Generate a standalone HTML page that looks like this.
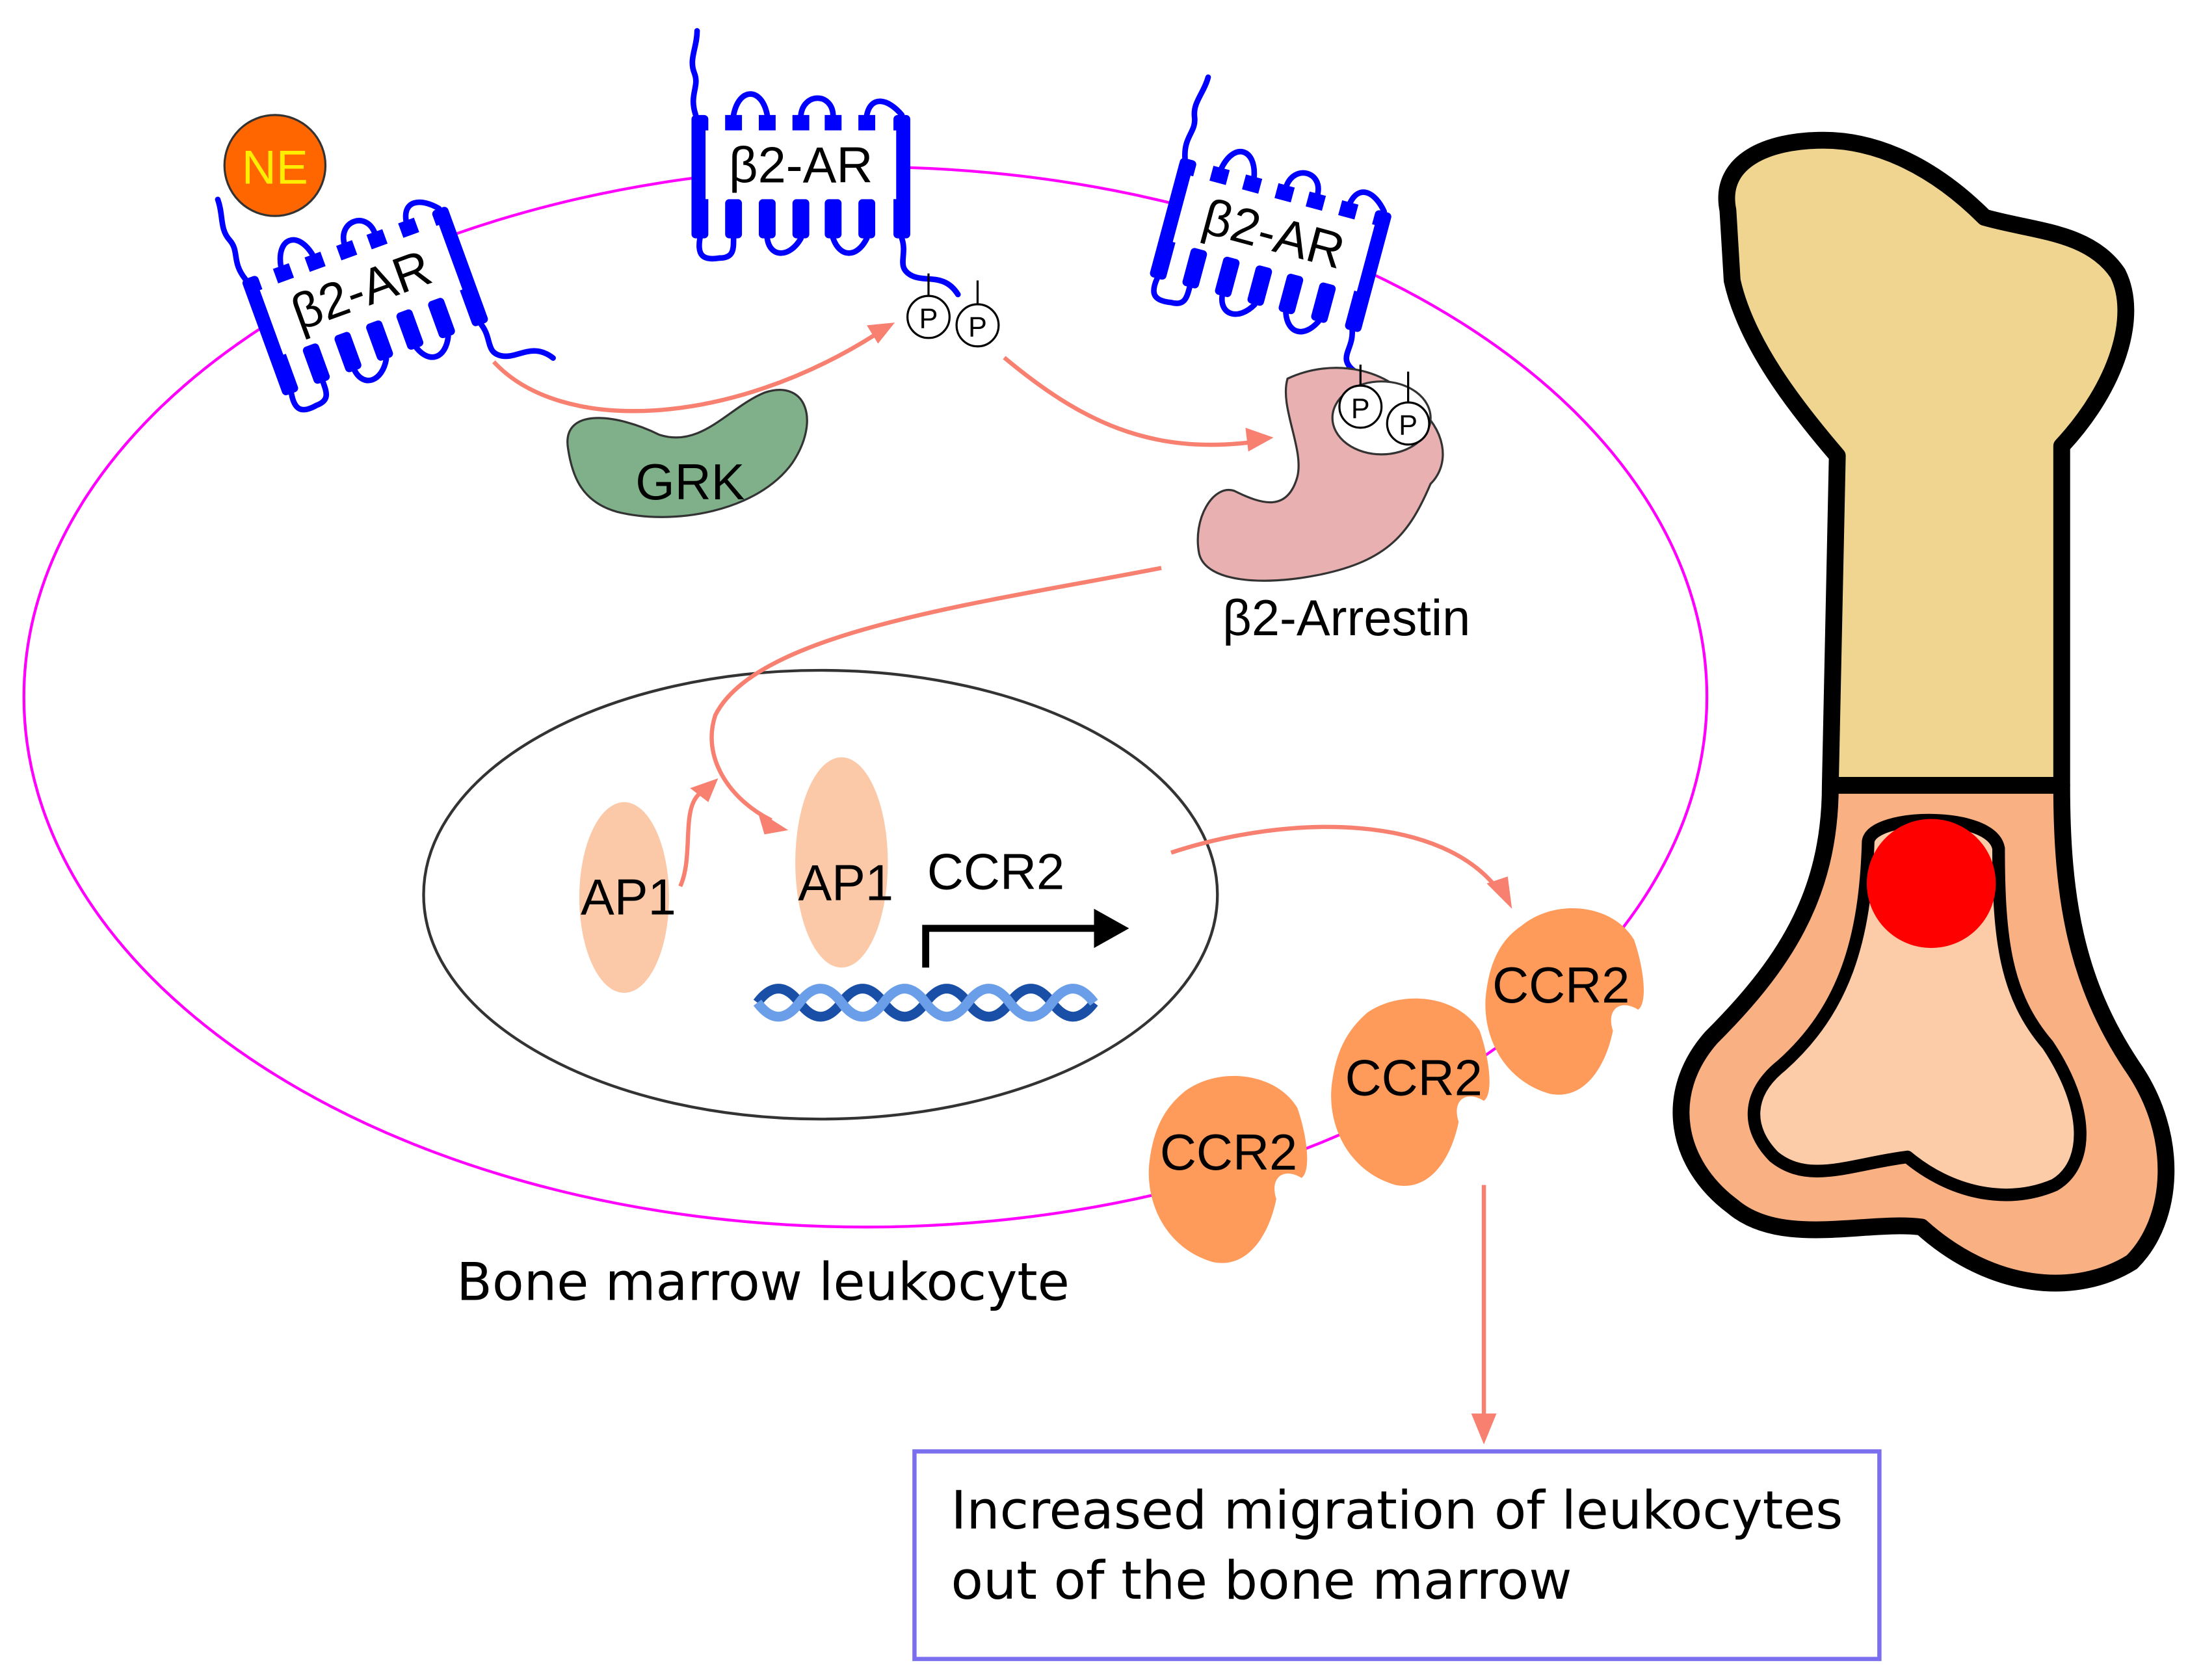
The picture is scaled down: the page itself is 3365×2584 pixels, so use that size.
<!DOCTYPE html>
<html><head><meta charset="utf-8"><style>html,body{margin:0;padding:0;background:#fff}svg{display:block}</style></head>
<body>
<svg width="3365" height="2584" viewBox="0 0 1560 1198" xmlns="http://www.w3.org/2000/svg" font-family="Liberation Sans, DejaVu Sans, sans-serif">
<defs>
<g id="rec">
  <g fill="#0000ff">
    <rect x="0" y="0" width="12" height="88" rx="3"/>
    <rect x="144" y="0" width="12" height="88" rx="3"/>
    <rect x="24" y="0" width="12" height="11"/><rect x="24" y="60" width="12" height="28" rx="3"/>
    <rect x="48" y="0" width="12" height="11"/><rect x="48" y="60" width="12" height="28" rx="3"/>
    <rect x="72" y="0" width="12" height="11"/><rect x="72" y="60" width="12" height="28" rx="3"/>
    <rect x="95" y="0" width="12" height="11"/><rect x="95" y="60" width="12" height="28" rx="3"/>
    <rect x="119" y="0" width="12" height="11"/><rect x="119" y="60" width="12" height="28" rx="3"/>
  </g>
  <rect x="10" y="11" width="136" height="49" fill="#fff"/>
  <rect x="2" y="11" width="8" height="49" fill="#0000ff"/>
  <rect x="146" y="11" width="8" height="49" fill="#0000ff"/>
  <g fill="none" stroke="#0000ff" stroke-width="4" stroke-linecap="round">
    <path d="M30 0 C34 -20 50 -20 54 0"/>
    <path d="M78 0 C80 -16 100 -16 101 0"/>
    <path d="M125 0 C128 -14 140 -12 150 0"/>
    <path d="M6 88 C4 100 8 104 20 102 C30 102 30 96 30 88"/>
    <path d="M54 88 C56 102 70 102 78 88"/>
    <path d="M101 88 C106 102 118 102 125 88"/>
    <path d="M3 0 C-2 -15 6 -20 2 -30 C-2 -40 4 -48 4 -60"/>
    <path d="M150 88 C154 100 146 108 156 114 C166 120 180 112 190 128"/>
  </g>
</g>
</defs>

<ellipse cx="617" cy="497" rx="600" ry="378" fill="none" stroke="#ff00ff" stroke-width="2"/>
<ellipse cx="585" cy="638" rx="283" ry="160" fill="none" stroke="#333" stroke-width="2"/>

<g transform="translate(493,82)">
  <use href="#rec"/>
  <text x="78" y="48" font-size="36" text-anchor="middle">β2-AR</text>
</g>
<g transform="translate(172,200) rotate(-20)">
  <use href="#rec"/>
  <text x="78" y="48" font-size="36" text-anchor="middle">β2-AR</text>
</g>
<g transform="translate(842,112) rotate(15)">
  <use href="#rec"/>
  <text x="78" y="48" font-size="36" text-anchor="middle">β2-AR</text>
</g>

<circle cx="196" cy="118" r="36" fill="#ff6600" stroke="#333" stroke-width="1.5"/>
<text x="196" y="131" font-size="34" fill="#ffee00" text-anchor="middle">NE</text>

<g stroke="#000" stroke-width="1.5" fill="#fff">
  <line x1="662" y1="195" x2="662" y2="211"/><line x1="697" y1="200" x2="697" y2="217"/>
  <circle cx="662" cy="226" r="15"/><circle cx="697" cy="232" r="15"/>
</g>
<text x="662" y="234" font-size="20" text-anchor="middle">P</text>
<text x="697" y="240" font-size="20" text-anchor="middle">P</text>

<path d="M405 320 C400 290 440 295 470 310 C500 320 520 290 545 280 C575 270 585 300 565 330 C540 365 480 375 440 365 C415 358 408 340 405 320 Z" fill="#7fb08a" stroke="#333" stroke-width="1.5"/>
<text x="492" y="356" font-size="36" text-anchor="middle">GRK</text>

<path d="M918 270 C950 255 990 262 1010 290 C1030 305 1035 330 1020 345 C1005 380 990 400 940 410 C900 418 860 415 855 395 C850 370 865 345 880 350 C900 360 918 365 925 340 C930 320 912 290 918 270 Z" fill="#e8b0b0" stroke="#333" stroke-width="1.5"/>
<ellipse cx="985" cy="298" rx="35" ry="26" fill="#fff" stroke="#333" stroke-width="1.5"/>
<g stroke="#000" stroke-width="1.5" fill="#fff">
  <line x1="970" y1="260" x2="970" y2="276"/><line x1="1004" y1="265" x2="1004" y2="288"/>
  <circle cx="970" cy="290" r="15"/><circle cx="1004" cy="302" r="15"/>
</g>
<text x="970" y="298" font-size="20" text-anchor="middle">P</text>
<text x="1004" y="310" font-size="20" text-anchor="middle">P</text>
<text x="960" y="453" font-size="36" text-anchor="middle">β2-Arrestin</text>

<g fill="none" stroke="#f88070" stroke-width="3">
  <path d="M352 258 C400 310 520 305 625 238"/>
  <path d="M716 255 C770 300 820 325 895 315"/>
  <path d="M828 405 C700 430 540 450 510 510 C500 540 520 570 550 585"/>
  <path d="M485 632 C495 610 485 575 500 565"/>
  <path d="M835 608 C920 580 1030 580 1070 637"/>
  <path d="M1058 845 L1058 1015"/>
</g>
<g fill="#f88070">
  <path d="M638 230 L618 232 L626 245 Z"/>
  <path d="M908 312 L888 305 L890 322 Z"/>
  <path d="M562 592 L540 578 L545 595 Z"/>
  <path d="M512 555 L492 562 L505 572 Z"/>
  <path d="M1078 648 L1060 630 L1075 625 Z"/>
  <path d="M1058 1030 L1049 1008 L1067 1008 Z"/>
</g>

<ellipse cx="445" cy="640" rx="32" ry="68" fill="#fcc9a8"/>
<ellipse cx="600" cy="615" rx="33" ry="75" fill="#fcc9a8"/>
<text x="448" y="652" font-size="36" text-anchor="middle">AP1</text>
<text x="603" y="642" font-size="36" text-anchor="middle">AP1</text>

<g stroke-width="7" fill="none">
  <path d="M540 715 Q555 695 570 715 T600 715 T630 715 T660 715 T690 715 T720 715 T750 715 T780 715" stroke="#1a4fa8"/>
  <path d="M540 715 Q555 735 570 715 T600 715 T630 715 T660 715 T690 715 T720 715 T750 715 T780 715" stroke="#6a9ee8"/>
</g>
<text x="710" y="634" font-size="36" text-anchor="middle">CCR2</text>
<path d="M660 690 L660 662 L785 662" fill="none" stroke="#000" stroke-width="5"/>
<path d="M805 662 L780 648 L780 676 Z" fill="#000"/>

<g fill="#fe9a5a">
  <path d="M1085 660 C1110 640 1150 645 1165 670 C1172 690 1175 715 1168 720 C1155 712 1145 720 1150 735 C1145 760 1130 785 1105 780 C1070 770 1055 735 1060 705 C1063 685 1070 670 1085 660 Z"/>
  <path d="M975 722 C1000 705 1040 710 1055 735 C1062 755 1065 780 1058 785 C1045 777 1035 785 1040 800 C1035 825 1020 850 995 845 C960 835 945 800 950 770 C953 750 960 735 975 722 Z"/>
  <path d="M845 778 C870 760 910 765 925 790 C932 810 935 835 928 840 C915 832 905 840 910 855 C905 880 890 905 865 900 C830 890 815 855 820 825 C823 805 830 790 845 778 Z"/>
</g>
<text x="1113" y="715" font-size="36" text-anchor="middle">CCR2</text>
<text x="1008" y="781" font-size="36" text-anchor="middle">CCR2</text>
<text x="876" y="834" font-size="36" text-anchor="middle">CCR2</text>

<path d="M1232 150 C1225 115 1260 100 1300 100 C1340 100 1380 120 1415 155 C1450 165 1490 165 1510 195 C1525 225 1510 275 1470 318 L1470 560 L1305 560 L1310 325 C1280 290 1245 245 1235 200 Z" fill="#f0d591" stroke="#000" stroke-width="12" stroke-linejoin="round"/>
<path d="M1305 560 L1470 560 C1470 640 1480 700 1520 760 C1555 810 1550 870 1520 900 C1480 925 1420 920 1370 875 C1330 870 1270 890 1235 860 C1195 830 1185 780 1220 740 C1270 690 1305 640 1305 560 Z" fill="#f9b082" stroke="#000" stroke-width="12" stroke-linejoin="round"/>
<path d="M1332 600 C1335 580 1420 578 1425 605 C1425 670 1430 710 1460 745 C1490 790 1490 830 1465 845 C1430 860 1390 850 1360 825 C1320 830 1290 845 1265 825 C1245 805 1245 780 1270 760 C1315 720 1330 670 1332 600 Z" fill="#fccba7" stroke="#000" stroke-width="9" stroke-linejoin="round"/>
<circle cx="1377" cy="630" r="46" fill="#ff0000"/>

<text x="544" y="927" font-size="37" text-anchor="middle" font-family="DejaVu Sans, sans-serif">Bone marrow leukocyte</text>
<rect x="652" y="1035" width="688" height="148" fill="#fff" stroke="#7b6ff0" stroke-width="3"/>
<text x="678" y="1090" font-size="37.5" font-family="DejaVu Sans, sans-serif">Increased migration of leukocytes</text>
<text x="678" y="1140" font-size="37.5" font-family="DejaVu Sans, sans-serif">out of the bone marrow</text>
</svg>
</body></html>
